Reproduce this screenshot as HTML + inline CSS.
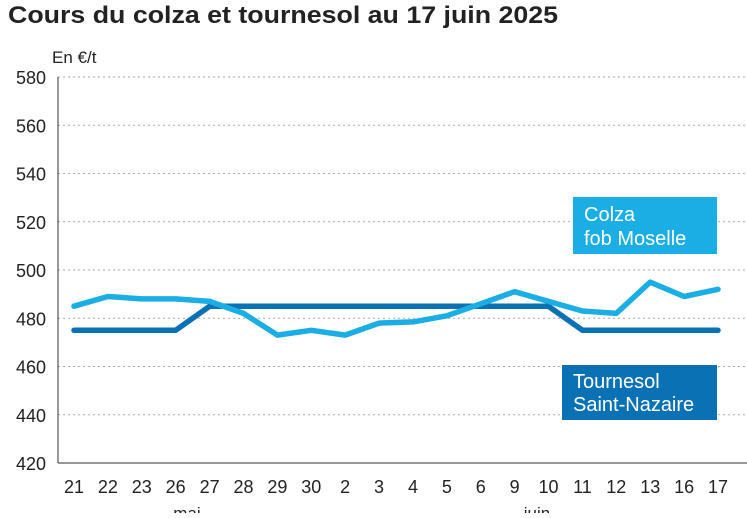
<!DOCTYPE html>
<html><head><meta charset="utf-8"><style>
body{margin:0;background:#fff;width:747px;height:513px;overflow:hidden;font-family:"Liberation Sans",sans-serif;}
</style></head><body>
<svg width="747" height="513" id="c" style="font-family:'Liberation Sans',sans-serif">
<text x="8" y="23" font-size="24" font-weight="bold" fill="#222" textLength="550" lengthAdjust="spacingAndGlyphs">Cours du colza et tournesol au 17 juin 2025</text>
<text x="52" y="63" font-size="17" fill="#222">En €/t</text>
<g id="grid"></g>
<line x1="58" y1="77" x2="58" y2="463" stroke="#333" stroke-width="1"/>
<line x1="58" y1="463" x2="747" y2="463" stroke="#333" stroke-width="1"/>
<g id="xt"></g>
<path id="tour" fill="none" stroke="#0a71b5" stroke-width="5.5" stroke-linejoin="round" stroke-linecap="round"/>
<path id="colza" fill="none" stroke="#1aaee5" stroke-width="5.5" stroke-linejoin="round" stroke-linecap="round"/>
<g>
<rect x="573" y="197" width="144" height="57" fill="#1aaee5"/>
<text x="584" y="221" font-size="20" fill="#fff">Colza</text>
<text x="584" y="245" font-size="20" fill="#fff">fob Moselle</text>
</g>
<g>
<rect x="562" y="365" width="155" height="55" fill="#0a71b5"/>
<text x="573" y="388" font-size="20" fill="#fff">Tournesol</text>
<text x="573" y="411" font-size="20" fill="#fff">Saint-Nazaire</text>
</g>
<text x="187" y="519" font-size="17" fill="#222" text-anchor="middle">mai</text>
<text x="537" y="519" font-size="17" fill="#222" text-anchor="middle">juin</text>
</svg>
<script>
const categories=["21","22","23","26","27","28","29","30","2","3","4","5","6","9","10","11","12","13","16","17"];
const colza=[485,489,488,488,487,482,473,475,473,478,478.5,481,486,491,487,483,482,495,489,492];
const tournesol=[475,475,475,475,485,485,485,485,485,485,485,485,485,485,485,475,475,475,475,475];
const yTicks=[420,440,460,480,500,520,540,560,580];
const ns="http://www.w3.org/2000/svg";
const x=i=>74+i*(718-74)/(categories.length-1);
const y=v=>463-(v-420)*(386/160);
const grid=document.getElementById('grid');
yTicks.forEach(t=>{
 const tx=document.createElementNS(ns,'text');
 tx.setAttribute('x','46');tx.setAttribute('y',y(t)+7);tx.setAttribute('font-size','18');tx.setAttribute('text-anchor','end');tx.setAttribute('fill','#222');
 tx.textContent=t;
 
 
 grid.appendChild(tx);
 if(t>420){
  const l=document.createElementNS(ns,'line');
  l.setAttribute('x1','58');l.setAttribute('x2','747');l.setAttribute('y1',y(t));l.setAttribute('y2',y(t));
  l.setAttribute('stroke','#aaa');l.setAttribute('stroke-dasharray','2 3');
  
  
  grid.appendChild(l);
 }
});
const xt=document.getElementById('xt');
categories.forEach((c,i)=>{
 const tx=document.createElementNS(ns,'text');
 tx.setAttribute('x',x(i));tx.setAttribute('y','493');tx.setAttribute('font-size','18');tx.setAttribute('text-anchor','middle');tx.setAttribute('fill','#222');
 tx.textContent=c;
 
 
 xt.appendChild(tx);
});
const d=a=>a.map((v,i)=>(i?'L':'M')+x(i).toFixed(1)+' '+y(v).toFixed(1)).join(' ');
document.getElementById('colza').setAttribute('d',d(colza));
document.getElementById('tour').setAttribute('d',d(tournesol));
</script>
</body></html>
